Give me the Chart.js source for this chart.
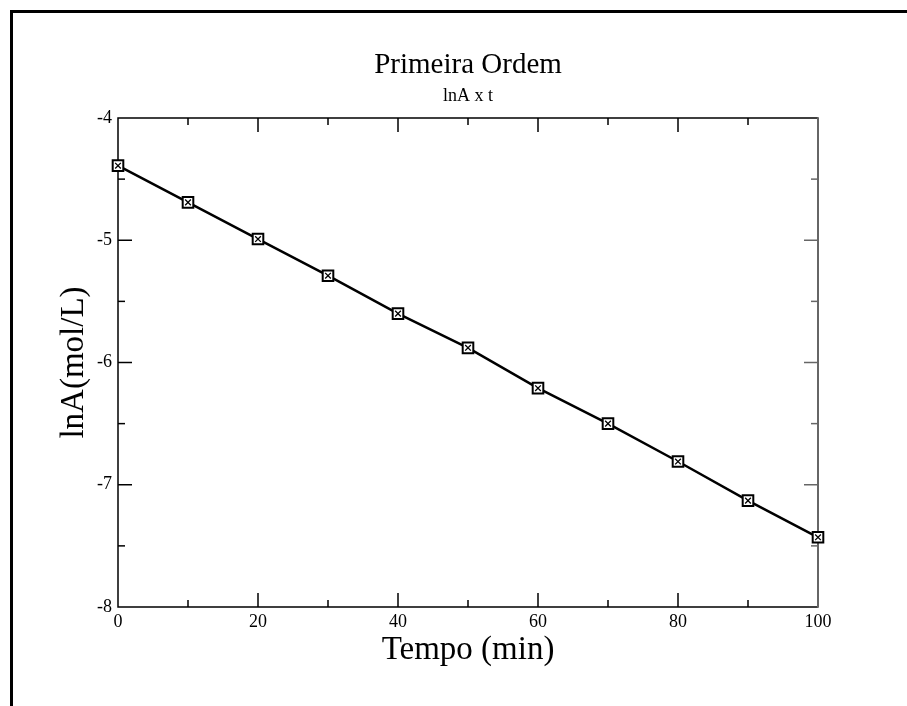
<!DOCTYPE html>
<html>
<head>
<meta charset="utf-8">
<script src="https://cdn.jsdelivr.net/npm/chart.js@4"></script>
<style>
  html, body { margin: 0; padding: 0; background: #fff; }
  #wrap { width: 907px; height: 706px; }
</style>
</head>
<body>
<div id="wrap"><canvas id="c" width="907" height="706"></canvas></div>
<script>
// ---- data ----
const times = [0, 10, 20, 30, 40, 50, 60, 70, 80, 90, 100];
const lnA = [-4.39, -4.69, -4.99, -5.29, -5.60, -5.88, -6.21, -6.50, -6.81, -7.13, -7.43];
const xTickValues = [0, 20, 40, 60, 80, 100];
const yTickValues = [-8, -7, -6, -5, -4];
const titleText = 'Primeira Ordem';
const subtitleText = 'lnA x t';
const xTitle = 'Tempo (min)';
const yTitle = 'lnA(mol/L)';

const points = times.map((t, i) => ({ x: t, y: lnA[i] }));
const SERIF = "'Liberation Serif', 'Times New Roman', serif";

const framePlugin = {
  id: 'frame',
  beforeDraw(chart) {
    const ctx = chart.ctx;
    ctx.save();
    ctx.fillStyle = '#fff';
    ctx.fillRect(0, 0, chart.width, chart.height);
    ctx.strokeStyle = '#000';
    ctx.lineWidth = 3;
    ctx.beginPath();
    ctx.moveTo(11.5, chart.height + 5);
    ctx.lineTo(11.5, 11.5);
    ctx.lineTo(chart.width + 5, 11.5);
    ctx.stroke();
    ctx.restore();
  }
};

const axesPlugin = {
  id: 'inwardAxes',
  beforeDatasetsDraw(chart) {
    const ctx = chart.ctx;
    const xs = chart.scales.x, ys = chart.scales.y;
    const L = xs.getPixelForValue(0), R = xs.getPixelForValue(100);
    const T = ys.getPixelForValue(-4), B = ys.getPixelForValue(-8);
    ctx.save();
    ctx.lineWidth = 1.5;
    for (let v = 10; v < 100; v += 10) {
      const px = xs.getPixelForValue(v);
      const len = (v % 20 === 0) ? 14 : 7;
      ctx.strokeStyle = '#000';
      ctx.beginPath();
      ctx.moveTo(px, B); ctx.lineTo(px, B - len);
      ctx.moveTo(px, T); ctx.lineTo(px, T + len);
      ctx.stroke();
    }
    for (let k = 1; k < 8; k++) {
      const v = -8 + k * 0.5;
      const py = ys.getPixelForValue(v);
      const len = (k % 2 === 0) ? 14 : 7;
      ctx.strokeStyle = '#000';
      ctx.beginPath();
      ctx.moveTo(L, py); ctx.lineTo(L + len, py);
      ctx.stroke();
      ctx.strokeStyle = '#666';
      ctx.beginPath();
      ctx.moveTo(R, py); ctx.lineTo(R - len, py);
      ctx.stroke();
    }
    ctx.strokeStyle = '#000';
    ctx.lineWidth = 1.5;
    ctx.beginPath();
    ctx.moveTo(R, T); ctx.lineTo(L, T); ctx.lineTo(L, B); ctx.lineTo(R, B);
    ctx.stroke();
    ctx.strokeStyle = '#666';
    ctx.lineWidth = 2;
    ctx.beginPath();
    ctx.moveTo(R, T - 0.75); ctx.lineTo(R, B + 0.75);
    ctx.stroke();
    ctx.restore();
  }
};

new Chart(document.getElementById('c'), {
  type: 'line',
  data: {
    datasets: [
      {
        data: points,
        order: 1,
        clip: false,
        borderColor: '#000',
        borderWidth: 2.5,
        pointStyle: 'rect',
        pointRadius: 7.5,
        pointBackgroundColor: '#fff',
        pointBorderColor: '#000',
        pointBorderWidth: 2,
        tension: 0,
        fill: false
      },
      {
        data: points,
        order: 0,
        clip: false,
        showLine: false,
        pointStyle: 'crossRot',
        pointRadius: 4,
        pointBorderColor: '#000',
        pointBorderWidth: 1.3,
        pointBackgroundColor: '#000'
      }
    ]
  },
  options: {
    responsive: false,
    animation: false,
    events: [],
    layout: { padding: { left: 0, right: 89, top: 0, bottom: 0 } },
    plugins: {
      legend: { display: false },
      tooltip: { enabled: false },
      title: {
        display: true,
        fullSize: false,
        text: titleText,
        color: '#000',
        font: { family: SERIF, size: 29, weight: 'normal', lineHeight: 1.2 },
        padding: { top: 48, bottom: 3 }
      },
      subtitle: {
        display: true,
        fullSize: false,
        text: subtitleText,
        color: '#000',
        font: { family: SERIF, size: 18, weight: 'normal', lineHeight: 1.2 },
        padding: { top: 0, bottom: 10.6 }
      }
    },
    scales: {
      x: {
        type: 'linear',
        min: 0, max: 100,
        afterFit(s) { s.height = 99; },
        afterBuildTicks(s) { s.ticks = xTickValues.map(v => ({ value: v })); },
        grid: { display: false, drawTicks: false },
        border: { display: false },
        ticks: {
          color: '#000',
          padding: 4,
          maxRotation: 0,
          font: { family: SERIF, size: 18 }
        },
        title: {
          display: true,
          text: xTitle,
          color: '#000',
          font: { family: SERIF, size: 33, weight: 'normal', lineHeight: 1.2 },
          padding: { top: 0, bottom: 36 }
        }
      },
      y: {
        type: 'linear',
        min: -8, max: -4,
        afterFit(s) { s.width = 118; },
        afterBuildTicks(s) { s.ticks = yTickValues.map(v => ({ value: v })); },
        grid: { display: false, drawTicks: false },
        border: { display: false },
        ticks: {
          color: '#000',
          padding: 6,
          font: { family: SERIF, size: 18 }
        },
        title: {
          display: true,
          text: yTitle,
          color: '#000',
          font: { family: SERIF, size: 33, weight: 'normal', lineHeight: 1.2 },
          padding: { top: 55, bottom: 0 }
        }
      }
    }
  },
  plugins: [framePlugin, axesPlugin]
});
</script>
</body>
</html>
